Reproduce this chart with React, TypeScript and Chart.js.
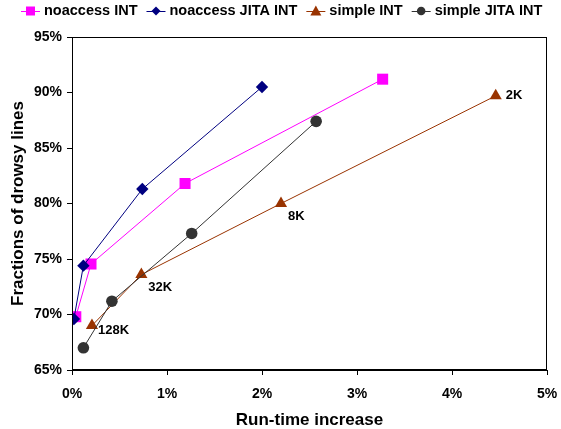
import React, { useEffect, useRef } from 'react';
import { Chart, registerables } from 'chart.js';

Chart.register(...registerables);

const FONT = '"Liberation Sans", Arial, Helvetica, sans-serif';

const seriesNames = ['noaccess INT', 'noaccess JITA INT', 'simple INT', 'simple JITA INT'];
const seriesColors = ['#FF00FF', '#000080', '#993300', '#333333'];
const seriesMarkers = ['rect', 'rectRot', 'triangle', 'circle'];
const seriesMarkerRadius = [7.8, 6.2, 7, 5.8];

const noaccessIntX = [0.04, 0.2, 1.19, 3.27];
const noaccessIntY = [69.8, 74.55, 81.8, 91.2];
const noaccessJitaX = [0.02, 0.12, 0.74, 2.0];
const noaccessJitaY = [69.6, 74.4, 81.3, 90.5];
const simpleIntX = [0.21, 0.73, 2.2, 4.46];
const simpleIntY = [69.0, 73.6, 80.0, 89.7];
const simpleJitaX = [0.12, 0.42, 1.26, 2.57];
const simpleJitaY = [67.0, 71.2, 77.3, 87.4];

const simpleIntLabels = ['128K', '32K', '8K', '2K'];
const simpleIntLabelOffsets = [[6, 5], [7, 13], [7, 13], [10, 0]];

const xTicks = [0, 1, 2, 3, 4, 5];
const yTicks = [65, 70, 75, 80, 85, 90, 95];

const xTitle = 'Run-time increase';
const yTitle = 'Fractions of drowsy lines';

function pts(xs: number[], ys: number[]) {
  return xs.map((x, i) => ({ x, y: ys[i] }));
}

function drawMarker(ctx: CanvasRenderingContext2D, style: string, x: number, y: number, r: number, color: string) {
  ctx.save();
  ctx.fillStyle = color;
  ctx.beginPath();
  if (style === 'rect') {
    ctx.rect(x - r, y - r, 2 * r, 2 * r);
  } else if (style === 'rectRot') {
    ctx.moveTo(x, y - r);
    ctx.lineTo(x + r, y);
    ctx.lineTo(x, y + r);
    ctx.lineTo(x - r, y);
    ctx.closePath();
  } else if (style === 'triangle') {
    ctx.moveTo(x, y - r);
    ctx.lineTo(x + r, y + r * 0.8);
    ctx.lineTo(x - r, y + r * 0.8);
    ctx.closePath();
  } else {
    ctx.arc(x, y, r, 0, Math.PI * 2);
  }
  ctx.fill();
  ctx.restore();
}

const legendMarkerSize = [4.5, 4.5, 5.5, 4.3];

const customPlugin = {
  id: 'customDraw',
  afterDraw(chart: any) {
    const ctx: CanvasRenderingContext2D = chart.ctx;
    const { left, right, top, bottom } = chart.chartArea;
    // plot frame
    ctx.save();
    ctx.strokeStyle = '#000';
    ctx.lineWidth = 1;
    ctx.strokeRect(Math.round(left) + 0.5, Math.round(top) + 0.5, Math.round(right - left) - 1, Math.round(bottom - top) - 1);
    ctx.restore();

    // data labels for simple INT
    const meta = chart.getDatasetMeta(2);
    ctx.save();
    ctx.font = 'bold 13px ' + FONT;
    ctx.fillStyle = '#000';
    ctx.textBaseline = 'middle';
    ctx.textAlign = 'left';
    meta.data.forEach((el: any, i: number) => {
      const [dx, dy] = simpleIntLabelOffsets[i];
      ctx.fillText(simpleIntLabels[i], el.x + dx, el.y + dy);
    });
    ctx.restore();

    // legend
    ctx.save();
    ctx.font = 'bold 14.5px ' + FONT;
    ctx.textBaseline = 'middle';
    ctx.textAlign = 'left';
    let x = 21;
    const y = 11;
    seriesNames.forEach((name, i) => {
      ctx.strokeStyle = seriesColors[i];
      ctx.lineWidth = 1;
      ctx.beginPath();
      ctx.moveTo(x, y + 0.5);
      ctx.lineTo(x + 19, y + 0.5);
      ctx.stroke();
      drawMarker(ctx, seriesMarkers[i], x + 9.5, y, legendMarkerSize[i], seriesColors[i]);
      ctx.fillStyle = '#000';
      ctx.fillText(name, x + 23, y);
      x += 23 + ctx.measureText(name).width + 9;
    });
    ctx.restore();
  },
};

export default function App() {
  const ref = useRef<HTMLCanvasElement | null>(null);
  useEffect(() => {
    if (!ref.current) return;
    const sets = [
      pts(noaccessIntX, noaccessIntY),
      pts(noaccessJitaX, noaccessJitaY),
      pts(simpleIntX, simpleIntY),
      pts(simpleJitaX, simpleJitaY),
    ];
    const chart = new Chart(ref.current, {
      type: 'scatter',
      data: {
        datasets: sets.map((d, i) => ({
          label: seriesNames[i],
          data: d,
          showLine: true,
          borderColor: seriesColors[i],
          backgroundColor: seriesColors[i],
          borderWidth: 1,
          pointStyle: seriesMarkers[i] as any,
          pointRadius: seriesMarkerRadius[i],
          pointBorderWidth: 0,
          pointBackgroundColor: seriesColors[i],
          pointBorderColor: seriesColors[i],
          order: 3 - i,
        })),
      },
      options: {
        responsive: false,
        animation: false,
        events: [],
        layout: { padding: { top: 37, right: 14, left: 0, bottom: 0 } },
        plugins: { legend: { display: false }, tooltip: { enabled: false } },
        scales: {
          x: {
            type: 'linear',
            min: 0,
            max: 5,
            afterBuildTicks: (s: any) => { s.ticks = xTicks.map((v) => ({ value: v })); },
            afterFit: (s: any) => { s.height = 59; s.paddingRight = 0; s.paddingLeft = 0; },
            ticks: {
              callback: (v: any) => v + '%',
              color: '#000',
              font: { family: FONT, size: 14, weight: 'bold' },
              padding: 11,
              maxRotation: 0,
            },
            grid: { drawOnChartArea: false, drawTicks: true, tickLength: 5, color: '#000' },
            border: { display: true, color: '#000', width: 1 },
            title: {
              display: true,
              text: xTitle,
              color: '#000',
              font: { family: FONT, size: 17, weight: 'bold' },
              padding: { top: 0, bottom: -2 },
            },
          },
          y: {
            type: 'linear',
            min: 65,
            max: 95,
            afterBuildTicks: (s: any) => { s.ticks = yTicks.map((v) => ({ value: v })); },
            afterFit: (s: any) => { s.width = 72; s.paddingTop = 0; s.paddingBottom = 0; },
            ticks: {
              callback: (v: any) => v + '%',
              color: '#000',
              font: { family: FONT, size: 14, weight: 'bold' },
              padding: 5,
            },
            grid: { drawOnChartArea: false, drawTicks: true, tickLength: 5, color: '#000' },
            border: { display: true, color: '#000', width: 1 },
            title: {
              display: true,
              text: yTitle,
              color: '#000',
              font: { family: FONT, size: 17, weight: 'bold' },
              padding: { top: 8, bottom: 0 },
            },
          },
        },
      },
      plugins: [customPlugin],
    });
    return () => chart.destroy();
  }, []);
  return (
    <div style={{ position: 'absolute', left: 0, top: 0, width: 561, height: 429, background: '#fff' }}>
      <canvas ref={ref} width={561} height={429} style={{ display: 'block' }} />
    </div>
  );
}
